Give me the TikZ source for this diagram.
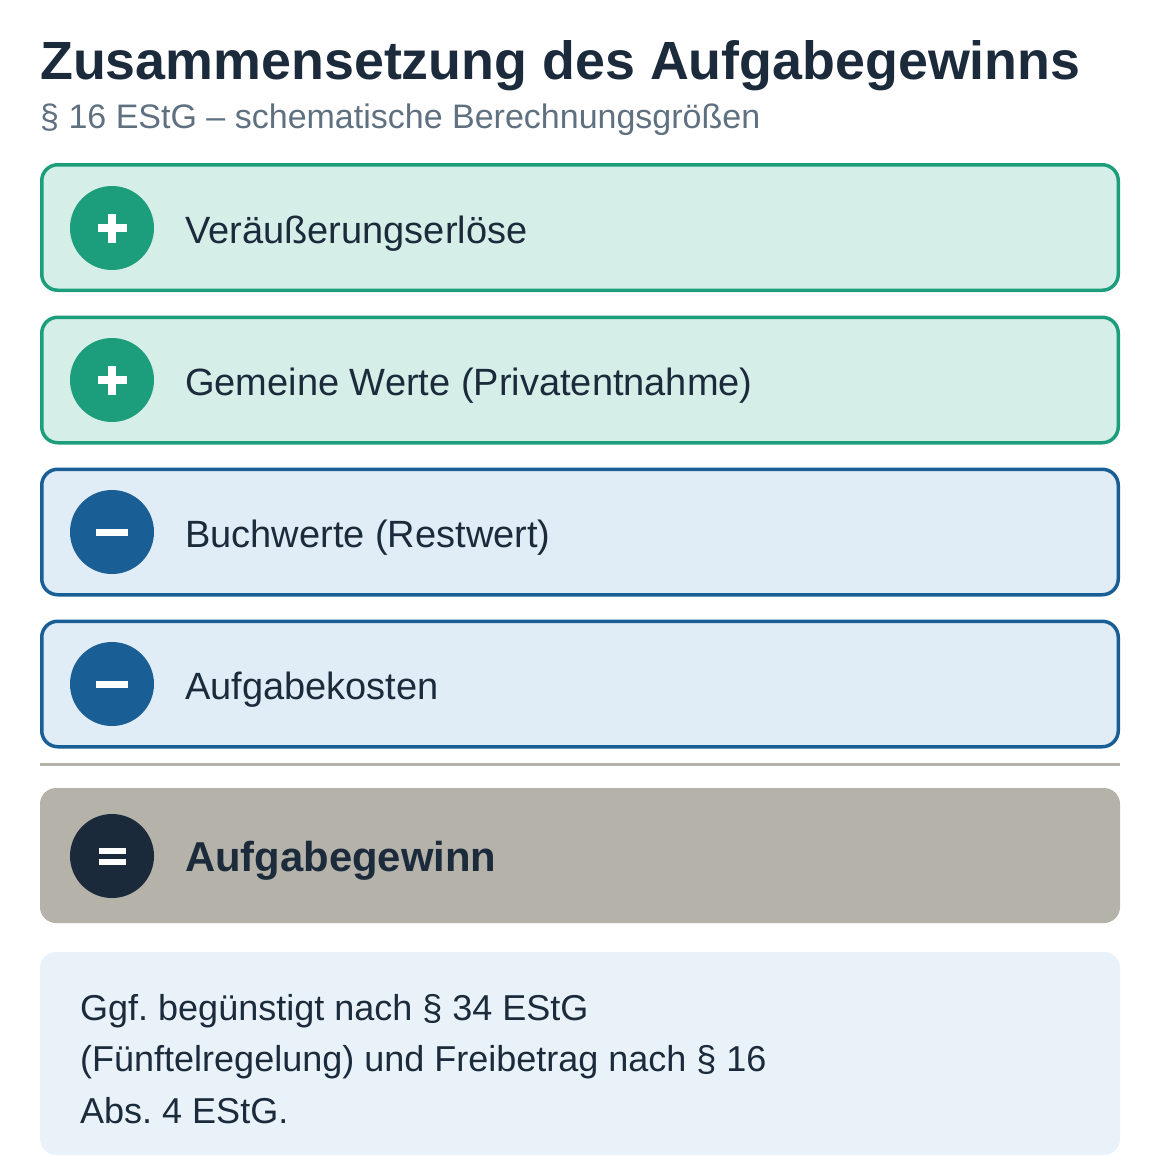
\documentclass[tikz,border=0pt]{standalone}
\usepackage{fontspec}
\setmainfont{Liberation Sans}
\definecolor{ink}{HTML}{1B2B3B}
\definecolor{subgrey}{HTML}{5F7080}
\definecolor{plusline}{HTML}{1C9D7B}
\definecolor{plusfill}{HTML}{D5EFE8}
\definecolor{minusline}{HTML}{1A5E96}
\definecolor{minusfill}{HTML}{E0EDF6}
\definecolor{sumgrey}{HTML}{B5B2AA}
\definecolor{sumdark}{HTML}{1B2A3A}
\definecolor{notefill}{HTML}{E9F2F9}
\frenchspacing
\begin{document}
\begin{tikzpicture}[x=1pt,y=-1pt,
    rowbox/.style={draw=#1line, fill=#1fill, line width=3.5pt, rounded corners=16pt,
        minimum width=1076.5pt, minimum height=125.5pt, inner sep=0pt},
    sign/.style={circle, fill=#1, minimum size=84pt, inner sep=0pt},
    rowtext/.style={anchor=base west, inner sep=0pt, text=ink, font=\fontsize{38}{44}\selectfont},
    bar/.style={white, line width=#1}]
    \useasboundingbox (0,0) rectangle (1160,1164);

    % title
    \node[anchor=base west, inner sep=0pt, text=ink, font=\fontsize{53.8}{60}\selectfont\bfseries] (title) at (40,80) {Zusammensetzung des Aufgabegewinns};
    \node[anchor=base west, inner sep=0pt, text=subgrey, font=\fontsize{34}{40}\selectfont] (subtitle) at (40,128) {§ 16 EStG – schematische Berechnungsgrößen};

    % rows
    \node[rowbox=plus] (r1) at (580,227.5) {};
    \node[sign=plusline] (s1) at (112,228) {};
    \draw[bar=8pt] ([xshift=-14.5pt]s1.center) -- ([xshift=14.5pt]s1.center);
    \draw[bar=8pt] ([yshift=-14.5pt]s1.center) -- ([yshift=14.5pt]s1.center);
    \node[rowtext] (t1) at (185,243) {Veräußerungserlöse};

    \node[rowbox=plus] (r2) at (580,380) {};
    \node[sign=plusline] (s2) at (112,380) {};
    \draw[bar=8pt] ([xshift=-14.5pt]s2.center) -- ([xshift=14.5pt]s2.center);
    \draw[bar=8pt] ([yshift=-14.5pt]s2.center) -- ([yshift=14.5pt]s2.center);
    \node[rowtext] (t2) at (185,395) {Gemeine Werte (Privatentnahme)};

    \node[rowbox=minus] (r3) at (580,532) {};
    \node[sign=minusline] (s3) at (112,532) {};
    \draw[bar=7pt] ([xshift=-16pt]s3.center) -- ([xshift=16pt]s3.center);
    \node[rowtext] (t3) at (185,547) {Buchwerte (Restwert)};

    \node[rowbox=minus] (r4) at (580,684) {};
    \node[sign=minusline] (s4) at (112,684) {};
    \draw[bar=7pt] ([xshift=-16pt]s4.center) -- ([xshift=16pt]s4.center);
    \node[rowtext] (t4) at (185,699) {Aufgabekosten};

    % separator
    \coordinate (sepL) at (40,764);
    \coordinate (sepR) at (1120,764);
    \draw[sumgrey, line width=3pt] (sepL) -- (sepR);

    % result
    \node[fill=sumgrey, rounded corners=16pt, minimum width=1080pt, minimum height=135pt, inner sep=0pt] (res) at (580,855.5) {};
    \node[sign=sumdark] (s5) at (112,856) {};
    \draw[bar=6pt] ([xshift=-13.5pt,yshift=-5.5pt]s5.center) -- ([xshift=13.5pt,yshift=-5.5pt]s5.center);
    \draw[bar=6pt] ([xshift=-13.5pt,yshift=5.5pt]s5.center) -- ([xshift=13.5pt,yshift=5.5pt]s5.center);
    \node[rowtext, font=\fontsize{41.8}{48}\selectfont\bfseries] (t5) at (185,871) {Aufgabegewinn};

    % note
    \node[fill=notefill, rounded corners=16pt, minimum width=1080pt, minimum height=203pt, inner sep=0pt] (note) at (580,1053.5) {};
    \node[anchor=base west, inner sep=0pt, align=left, text=ink, font=\fontsize{36}{51.5}\selectfont] (notetext) at (80,1123)
        {Ggf. begünstigt nach § 34 EStG\\(Fünftelregelung) und Freibetrag nach § 16\\Abs. 4 EStG.};
\end{tikzpicture}
\end{document}
